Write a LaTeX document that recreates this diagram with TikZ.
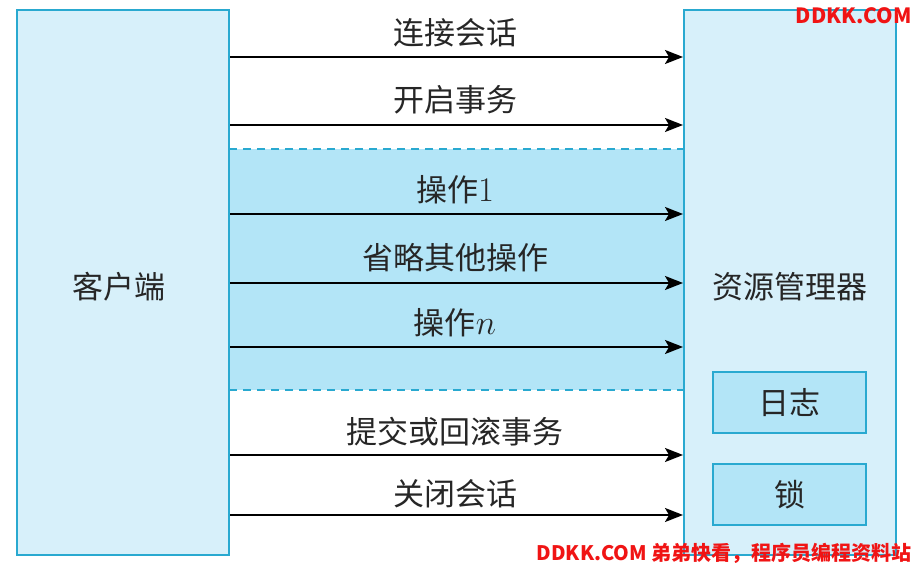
\documentclass[tikz,border=0pt]{standalone}
\usepackage{fontspec}
\setmainfont{Noto Sans CJK SC}
\usepackage{xcolor}
\definecolor{boxline}{RGB}{41,169,208}
\definecolor{boxfill}{RGB}{215,240,250}
\definecolor{opfill}{RGB}{179,229,247}
\definecolor{wmred}{RGB}{240,20,20}
\usetikzlibrary{arrows.meta,positioning}
\newcommand\opnum[1]{{\fontsize{17}{17}\selectfont$#1$}}
\tikzset{
  party/.style={rectangle, draw=boxline, fill=boxfill, line width=1pt, minimum width=106pt, minimum height=272.5pt, inner sep=0pt, text=black!85, font=\fontsize{15.5}{16}\selectfont},
  store/.style={rectangle, draw=boxline, fill=opfill, line width=1pt, minimum width=76.5pt, minimum height=30.5pt, inner sep=0pt, text=black!85, font=\fontsize{15.5}{16}\selectfont},
  lbl/.style={text=black!85, inner sep=0pt, font=\fontsize{15.5}{16}\selectfont},
  msg/.style={draw, line width=1pt, -{Stealth[length=9pt,width=7pt,inset=2pt]}},
  oparea/.style={fill=opfill, draw=none},
  opedge/.style={draw=boxline, line width=1pt, dash pattern=on 4pt off 3pt},
  wmark/.style={text=wmred, inner sep=0pt, font=\fontsize{10.5}{11}\selectfont\bfseries},
}
\begin{document}
\begin{tikzpicture}[x=0.5pt,y=-0.5pt]
    \useasboundingbox (0,0) rectangle (914,565);

    % operations region
    \path[oparea] (229,149) rectangle (684,390);
    \path[opedge] (229,149) -- (684,149);
    \path[opedge] (229,390) -- (684,390);

    \node[party] (client) at (123,282.5) {};
    \node[lbl] (clientname) at (119,287) {客户端};
    \node[party] (rm) at (790,282.5) {};
    \node[lbl] (rmname) at (790,287) {资源管理器};
    \node[store] (log) at (789.5,402.5) {日志};
    \node[store] (lock) at (789.5,494.5) {锁};

    \node[lbl] (conn) at (455,33) {连接会话};
    \node[lbl] (begin) at (455,100) {开启事务};
    \node[lbl] (op1) at (455,190) {操作\opnum{1}};
    \node[lbl] (opetc) at (455,258) {省略其他操作};
    \node[lbl] (opn) at (455,323) {操作\opnum{n}};
    \node[lbl] (commit) at (455,432) {提交或回滚事务};
    \node[lbl] (close) at (455,494) {关闭会话};

    \begin{scope}[every path/.style=msg]
      \path (client.east |- 0,57) -- (rm.west |- 0,57);
      \path (client.east |- 0,125) -- (rm.west |- 0,125);
      \path (client.east |- 0,214) -- (rm.west |- 0,214);
      \path (client.east |- 0,283) -- (rm.west |- 0,283);
      \path (client.east |- 0,347) -- (rm.west |- 0,347);
      \path (client.east |- 0,455) -- (rm.west |- 0,455);
      \path (client.east |- 0,515) -- (rm.west |- 0,515);
    \end{scope}

    \node[wmark, anchor=east] (wmtop) at (912,16) {DDKK.COM};
    \node[wmark, anchor=east, font=\fontsize{10}{11}\selectfont\bfseries] (wmbot) at (912,553) {DDKK.COM 弟弟快看，程序员编程资料站};
\end{tikzpicture}
\end{document}
